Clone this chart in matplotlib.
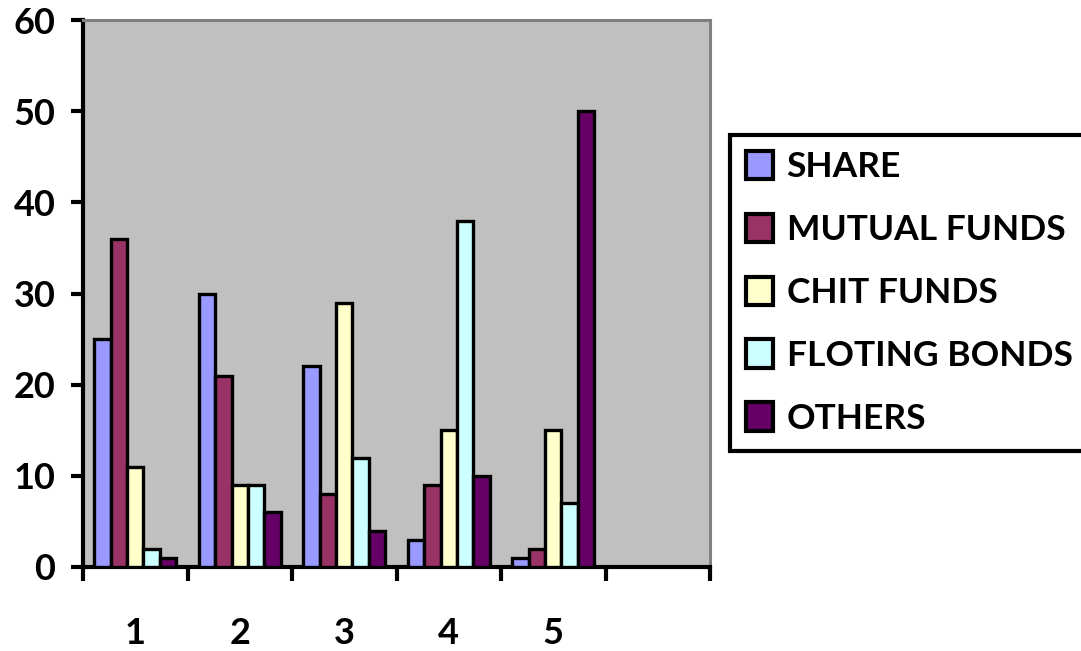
import matplotlib
matplotlib.use("Agg")
import matplotlib.pyplot as plt
import numpy as np

categories = ["1", "2", "3", "4", "5", ""]
series_names = ["SHARE", "MUTUAL FUNDS", "CHIT FUNDS", "FLOTING BONDS", "OTHERS"]
share = [25, 30, 22, 3, 1, np.nan]
mutual_funds = [36, 21, 8, 9, 2, np.nan]
chit_funds = [11, 9, 29, 15, 15, np.nan]
floting_bonds = [2, 9, 12, 38, 7, np.nan]
others = [1, 6, 4, 10, 50, np.nan]
colors = ["#9999FF", "#993366", "#FFFFCC", "#CCFFFF", "#660066"]

series = [share, mutual_funds, chit_funds, floting_bonds, others]

plt.rcParams['font.family'] = ['Lato', 'DejaVu Sans']
fig = plt.figure(figsize=(10.81, 6.51), dpi=100)
ax = fig.add_axes([83/1081, 1-567/651, (710-83)/1081, (567-20)/651])
ax.set_facecolor("#C0C0C0")

n = len(categories)
x = np.arange(n)
bw = 0.156
for i, (vals, name, c) in enumerate(zip(series, series_names, colors)):
    ax.bar(x + (i - 2) * bw, vals, width=bw, color=c, edgecolor="black",
           linewidth=2.4, label=name, zorder=3)

ax.set_xlim(-0.5, n - 0.5)
ax.set_ylim(0, 60)
ax.set_yticks(range(0, 61, 10))
ax.set_yticklabels([str(v) for v in range(0, 61, 10)], fontsize=26, fontweight='bold')
ax.set_xticks(np.arange(-0.5, n, 1.0))
ax.set_xticklabels([])
ax.set_xticks(x, minor=True)
ax.set_xticklabels(categories, minor=True, fontsize=26, fontweight='bold')
ax.tick_params(axis='x', which='major', direction='out', length=10, width=3, color='black')
ax.tick_params(axis='x', which='minor', length=0, pad=36)
ax.tick_params(axis='y', direction='out', length=9, width=3, color='black', pad=11)

for s in ['left', 'bottom']:
    ax.spines[s].set_linewidth(3)
    ax.spines[s].set_color('black')
for s in ['top', 'right']:
    ax.spines[s].set_linewidth(2.2)
    ax.spines[s].set_color('#808080')

leg = fig.legend(loc='upper left', bbox_to_anchor=(730/1081, 1-135/651),
                 prop={'size': 25.5, 'weight': 'bold'}, frameon=True, fancybox=False,
                 framealpha=1, edgecolor='black',
                 handlelength=0.75, handleheight=0.85, handletextpad=0.4,
                 labelspacing=0.86, borderpad=0.45, borderaxespad=0)
leg.get_frame().set_linewidth(3)
for h in leg.legend_handles:
    h.set_linewidth(3)

fig.savefig("out.png", dpi=100)
